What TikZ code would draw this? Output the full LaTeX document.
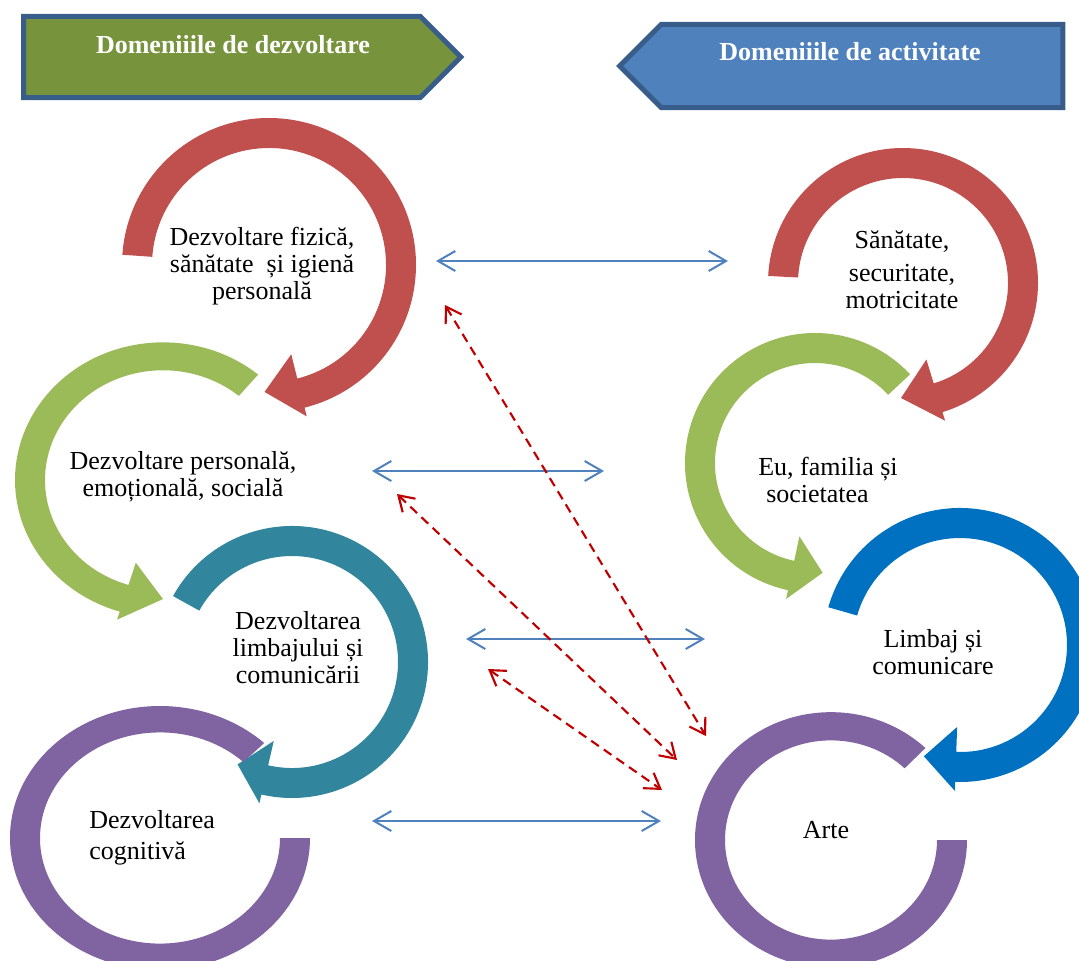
\documentclass[tikz,border=0pt]{standalone}
\usepackage{fontspec}
\setmainfont{Liberation Serif}
\usetikzlibrary{shapes,shapes.symbols,calc}
\usetikzlibrary{arrows.meta}

\definecolor{ringred}{HTML}{C0504D}
\definecolor{ringgreen}{HTML}{9BBB59}
\definecolor{ringteal}{HTML}{31859C}
\definecolor{ringpurple}{HTML}{8064A2}
\definecolor{ringblue}{HTML}{0070C0}
\definecolor{hdrgreen}{HTML}{77933C}
\definecolor{hdrblue}{HTML}{4F81BD}
\definecolor{hdrline}{HTML}{385D8A}
\definecolor{linkblue}{HTML}{4F81BD}
\definecolor{linkred}{HTML}{C00000}

% block arrow bent round a circle: centre, radius, start, end, tip, colour, yscale
\newcommand{\ringarrow}[7]{%
  \begin{scope}[shift={#1}, yscale=#7]
    \fill[#6] (#3:#2) arc[start angle=#3, end angle=#4, radius=#2]
      -- (#4:{#2+9}) -- (#5:{#2-20}) -- (#4:{#2-55}) -- (#4:{#2-30})
      arc[start angle=#4, end angle=#3, radius={#2-30}] -- cycle;
  \end{scope}}
% open ring without head: centre, radius, start, end, colour, yscale
\newcommand{\ringgap}[6]{%
  \begin{scope}[shift={#1}, yscale=#6]
    \fill[#5] (#3:#2) arc[start angle=#3, end angle=#4, radius=#2]
      -- (#4:{#2-30}) arc[start angle=#4, end angle=#3, radius={#2-30}] -- cycle;
  \end{scope}}

\begin{document}
\begin{tikzpicture}[x=0.75pt, y=-0.75pt]
{\fontsize{19.5}{20.3}\selectfont
	\tikzstyle{header} = [signal, signal pointer angle=90, draw=hdrline, line width=3.75pt, inner sep=0pt]
	\tikzstyle{hdrtext} = [text=white, font=\bfseries]
	\tikzstyle{areatext} = [align=center, inner sep=0pt]
	\tikzstyle{link} = [draw=linkblue, line width=1.5pt, {Straight Barb[length=13pt,width=15pt]}-{Straight Barb[length=13pt,width=15pt]}]
	\tikzstyle{xlink} = [draw=linkred, line width=1.6pt, dash pattern=on 7pt off 4.5pt, {Straight Barb[length=11pt,width=14pt]}-{Straight Barb[length=11pt,width=14pt]}]

	\useasboundingbox (0,0) rectangle (1079,961);

	% headers
	\node (hdev) [header, signal to=east, fill=hdrgreen, minimum width=327.8pt, minimum height=60.8pt] at (222,57) {};
	\node (hact) [header, signal to=west, fill=hdrblue, minimum width=332.3pt, minimum height=62.3pt] at (862,66) {};
	\node [hdrtext] at (233,45) {Domeniiile de dezvoltare};
	\node [hdrtext] at (850,52) {Domeniiile de activitate};

	% left column
	\ringarrow{(269,265)}{147}{184}{436}{452}{ringred}{1}
	\ringarrow{(163,480)}{148}{-50}{-253}{-270}{ringgreen}{0.93}
	\ringarrow{(292,662)}{136}{209}{463}{478}{ringteal}{1}
	\ringgap{(160,838)}{150}{0}{314}{ringpurple}{0.88}

	% right column
	\ringarrow{(903,283)}{135}{183}{433}{451}{ringred}{1}
	\ringarrow{(815,463)}{130}{-43}{-258}{-274}{ringgreen}{1}
	\ringarrow{(960,645)}{137}{196}{452}{468}{ringblue}{1}
	\ringgap{(831,840)}{136}{0}{314}{ringpurple}{0.94}

	\node (tphys) [areatext] at (262,266) {Dezvoltare fizică,\\sănătate\ \ și igienă\\personală};
	\node (tpers) [areatext] at (183,477) {Dezvoltare personală,\\emoțională, socială};
	\node (tlang) [areatext] at (298,648) {Dezvoltarea\\limbajului și\\comunicării};
	\node (tcogn) [areatext, align=left, anchor=west] at (89,838) {Dezvoltarea\\[3pt]cognitivă};

	\node (ahealth) [areatext] at (902,270) {Sănătate,\\[4.5pt]securitate,\\motricitate};
	\node (aself) [areatext, align=left, anchor=west] at (758,480) {Eu, familia și\\\hspace*{6pt}societatea};
	\node (alang) [areatext] at (933,652) {Limbaj și\\comunicare};
	\node (aarts) [areatext] at (826,830) {Arte};

	% links
	\coordinate (h1a) at (436,261); \coordinate (h1b) at (728,261);
	\coordinate (h2a) at (372,471); \coordinate (h2b) at (604,471);
	\coordinate (h3a) at (466,639); \coordinate (h3b) at (705,639);
	\coordinate (h4a) at (372,821); \coordinate (h4b) at (661,821);
	\coordinate (d1a) at (445,305); \coordinate (d1b) at (706,736);
	\coordinate (d2a) at (397,494); \coordinate (d2b) at (677,760);
	\coordinate (d3a) at (488,669); \coordinate (d3b) at (662,790);
	\draw [link] (h1a) -- (h1b);
	\draw [link] (h2a) -- (h2b);
	\draw [link] (h3a) -- (h3b);
	\draw [link] (h4a) -- (h4b);
	\draw [xlink] (d1a) -- (d1b);
	\draw [xlink] (d2a) -- (d2b);
	\draw [xlink] (d3a) -- (d3b);
	}
\end{tikzpicture}
\end{document}
